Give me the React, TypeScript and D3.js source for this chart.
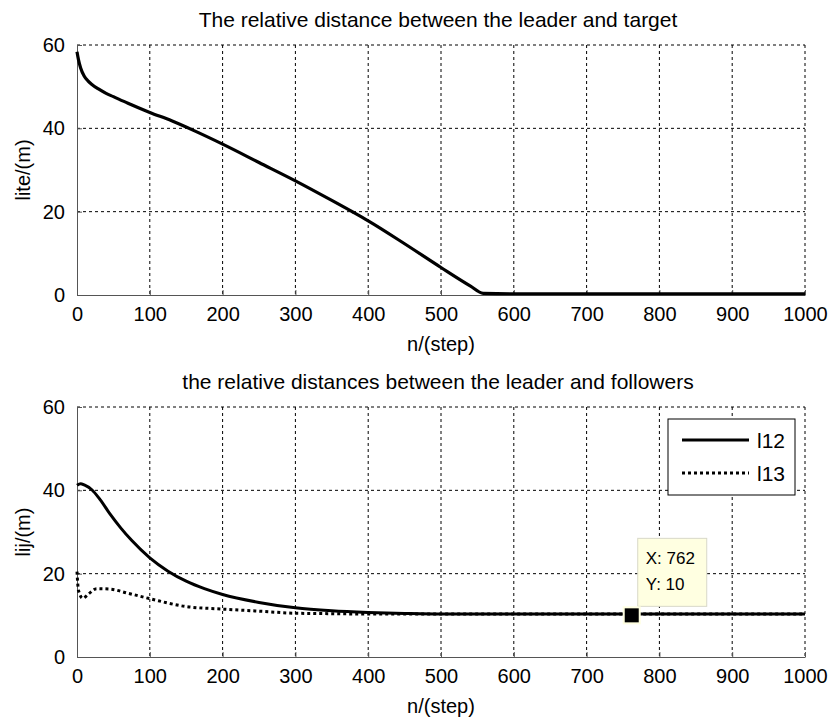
import * as d3 from 'd3';
import { useEffect, useRef } from 'react';

// top panel: distance leader -> target
const liteSteps = [0, 2, 5, 10, 15, 20, 30, 40, 50, 70, 100, 130, 160, 200, 250, 300, 350, 380, 400, 450, 500, 540, 558, 600, 700, 800, 900, 1000];
const liteValues = [58.4, 56.5, 54.5, 52.5, 51.4, 50.6, 49.4, 48.4, 47.6, 46, 43.8, 41.8, 39.5, 36.2, 31.8, 27.4, 22.7, 19.8, 17.8, 12.3, 6.6, 2.2, 0.4, 0.3, 0.3, 0.3, 0.3, 0.3];

// bottom panel: distances leader -> followers
const l12Steps = [0, 5, 10, 20, 32, 45, 60, 75, 100, 125, 150, 175, 200, 250, 300, 350, 400, 450, 500, 600, 700, 800, 900, 1000];
const l12Values = [41.2, 41.6, 41.3, 40.2, 37.7, 34.4, 31, 28, 23.8, 20.6, 18.2, 16.4, 15, 13.1, 11.8, 11.1, 10.7, 10.45, 10.3, 10.3, 10.3, 10.3, 10.3, 10.3];
const l13Steps = [0, 2, 8, 15, 27, 45, 70, 100, 150, 200, 250, 300, 350, 400, 500, 600, 700, 800, 900, 1000];
const l13Values = [20.5, 16, 14.1, 15, 16.4, 16.3, 15.3, 14, 12.1, 11.5, 11, 10.5, 10.4, 10.3, 10.3, 10.3, 10.3, 10.3, 10.3, 10.3];

const xTicks = [0, 100, 200, 300, 400, 500, 600, 700, 800, 900, 1000];
const yTicks = [0, 20, 40, 60];
const legendLabels = ['l12', 'l13'];
const dataTip = { x: 762, y: 10 };

const FONT = '"Liberation Sans", Arial, sans-serif';

function App() {
    const ref = useRef<SVGSVGElement>(null);

    useEffect(() => {
        const svg = d3.select(ref.current);
        svg.selectAll('*').remove();

        const left = 77, right = 805;
        const x = d3.scaleLinear().domain([0, 1000]).range([left, right]);

        const drawPanel = (top: number, bottom: number, title: string, ylabel: string) => {
            const y = d3.scaleLinear().domain([0, 60]).range([bottom, top]);
            const g = svg.append('g');

            // grid
            g.selectAll('.vg').data(xTicks.slice(1)).join('line')
                .attr('x1', d => x(d)).attr('x2', d => x(d))
                .attr('y1', top).attr('y2', bottom)
                .attr('stroke', '#000').attr('stroke-width', 1).attr('stroke-dasharray', '3,3');
            g.selectAll('.hg').data(yTicks.slice(1)).join('line')
                .attr('x1', left).attr('x2', right)
                .attr('y1', d => y(d)).attr('y2', d => y(d))
                .attr('stroke', '#000').attr('stroke-width', 1).attr('stroke-dasharray', '3,3');

            const xAxis = g.append('g').attr('transform', `translate(0,${bottom})`)
                .call(d3.axisBottom(x).tickValues(xTicks).tickFormat(d3.format('d')).tickSizeInner(-5).tickSizeOuter(0).tickPadding(12));
            const yAxis = g.append('g').attr('transform', `translate(${left},0)`)
                .call(d3.axisLeft(y).tickValues(yTicks).tickFormat(d3.format('d')).tickSizeInner(-5).tickSizeOuter(0).tickPadding(12));
            [xAxis, yAxis].forEach(a => {
                a.select('.domain').attr('stroke', '#555');
                a.selectAll('.tick line').attr('stroke', '#555');
                a.selectAll('text').attr('font-family', FONT).attr('font-size', 20).attr('fill', '#000');
            });

            g.append('text')
                .attr('x', (left + right) / 2 - 3).attr('y', top - 18)
                .attr('text-anchor', 'middle').attr('font-family', FONT).attr('font-size', 21)
                .text(title);
            g.append('text')
                .attr('x', (left + right) / 2).attr('y', bottom + 56)
                .attr('text-anchor', 'middle').attr('font-family', FONT).attr('font-size', 20)
                .text('n/(step)');
            g.append('text')
                .attr('transform', `translate(30,${(top + bottom) / 2}) rotate(-90)`)
                .attr('text-anchor', 'middle').attr('font-family', FONT).attr('font-size', 20)
                .text(ylabel);
            return y;
        };

        const y1 = drawPanel(45, 295, 'The relative distance between the leader and target', 'lite/(m)');
        const y2 = drawPanel(407, 657, 'the relative distances between the leader and followers', 'lij/(m)');

        const line1 = d3.line<number>().x((_, i) => x(liteSteps[i])).y(d => y1(d)).curve(d3.curveMonotoneX);
        svg.append('path').datum(liteValues).attr('d', line1)
            .attr('fill', 'none').attr('stroke', '#000').attr('stroke-width', 3.2);

        const line12 = d3.line<number>().x((_, i) => x(l12Steps[i])).y(d => y2(d)).curve(d3.curveMonotoneX);
        const line13 = d3.line<number>().x((_, i) => x(l13Steps[i])).y(d => y2(d)).curve(d3.curveMonotoneX);
        svg.append('path').datum(l13Values).attr('d', line13)
            .attr('fill', 'none').attr('stroke', '#000').attr('stroke-width', 3).attr('stroke-dasharray', '3,3');
        svg.append('path').datum(l12Values).attr('d', line12)
            .attr('fill', 'none').attr('stroke', '#000').attr('stroke-width', 3);

        // legend
        const lg = svg.append('g').attr('transform', 'translate(668,419)');
        lg.append('rect').attr('width', 127).attr('height', 76)
            .attr('fill', '#fff').attr('stroke', '#000').attr('stroke-width', 1);
        legendLabels.forEach((lab, i) => {
            const yy = 21 + i * 33;
            lg.append('line').attr('x1', 14).attr('x2', 81).attr('y1', yy).attr('y2', yy)
                .attr('stroke', '#000').attr('stroke-width', 3)
                .attr('stroke-dasharray', i === 1 ? '3,3' : null);
            lg.append('text').attr('x', 89).attr('y', yy + 8)
                .attr('font-family', FONT).attr('font-size', 21).text(lab);
        });

        // data tip
        const px = x(dataTip.x), py = y2(dataTip.y);
        const tg = svg.append('g');
        tg.append('rect').attr('x', px + 6).attr('y', py - 77).attr('width', 69).attr('height', 68)
            .attr('fill', '#ffffe1').attr('stroke', '#d8d8c8').attr('stroke-width', 1);
        tg.append('text').attr('x', px + 14).attr('y', py - 51)
            .attr('font-family', FONT).attr('font-size', 17).text(`X: ${dataTip.x}`);
        tg.append('text').attr('x', px + 14).attr('y', py - 25)
            .attr('font-family', FONT).attr('font-size', 17).text(`Y: ${dataTip.y}`);
        tg.append('rect').attr('x', px - 8).attr('y', py - 8).attr('width', 16).attr('height', 16)
            .attr('fill', '#000').attr('stroke', '#ffffe1').attr('stroke-width', 2);
    }, []);

    return (
        <svg ref={ref} width={830} height={725}
            style={{ position: 'absolute', left: 0, top: 0, background: '#fff' }} />
    );
}

export default App;
